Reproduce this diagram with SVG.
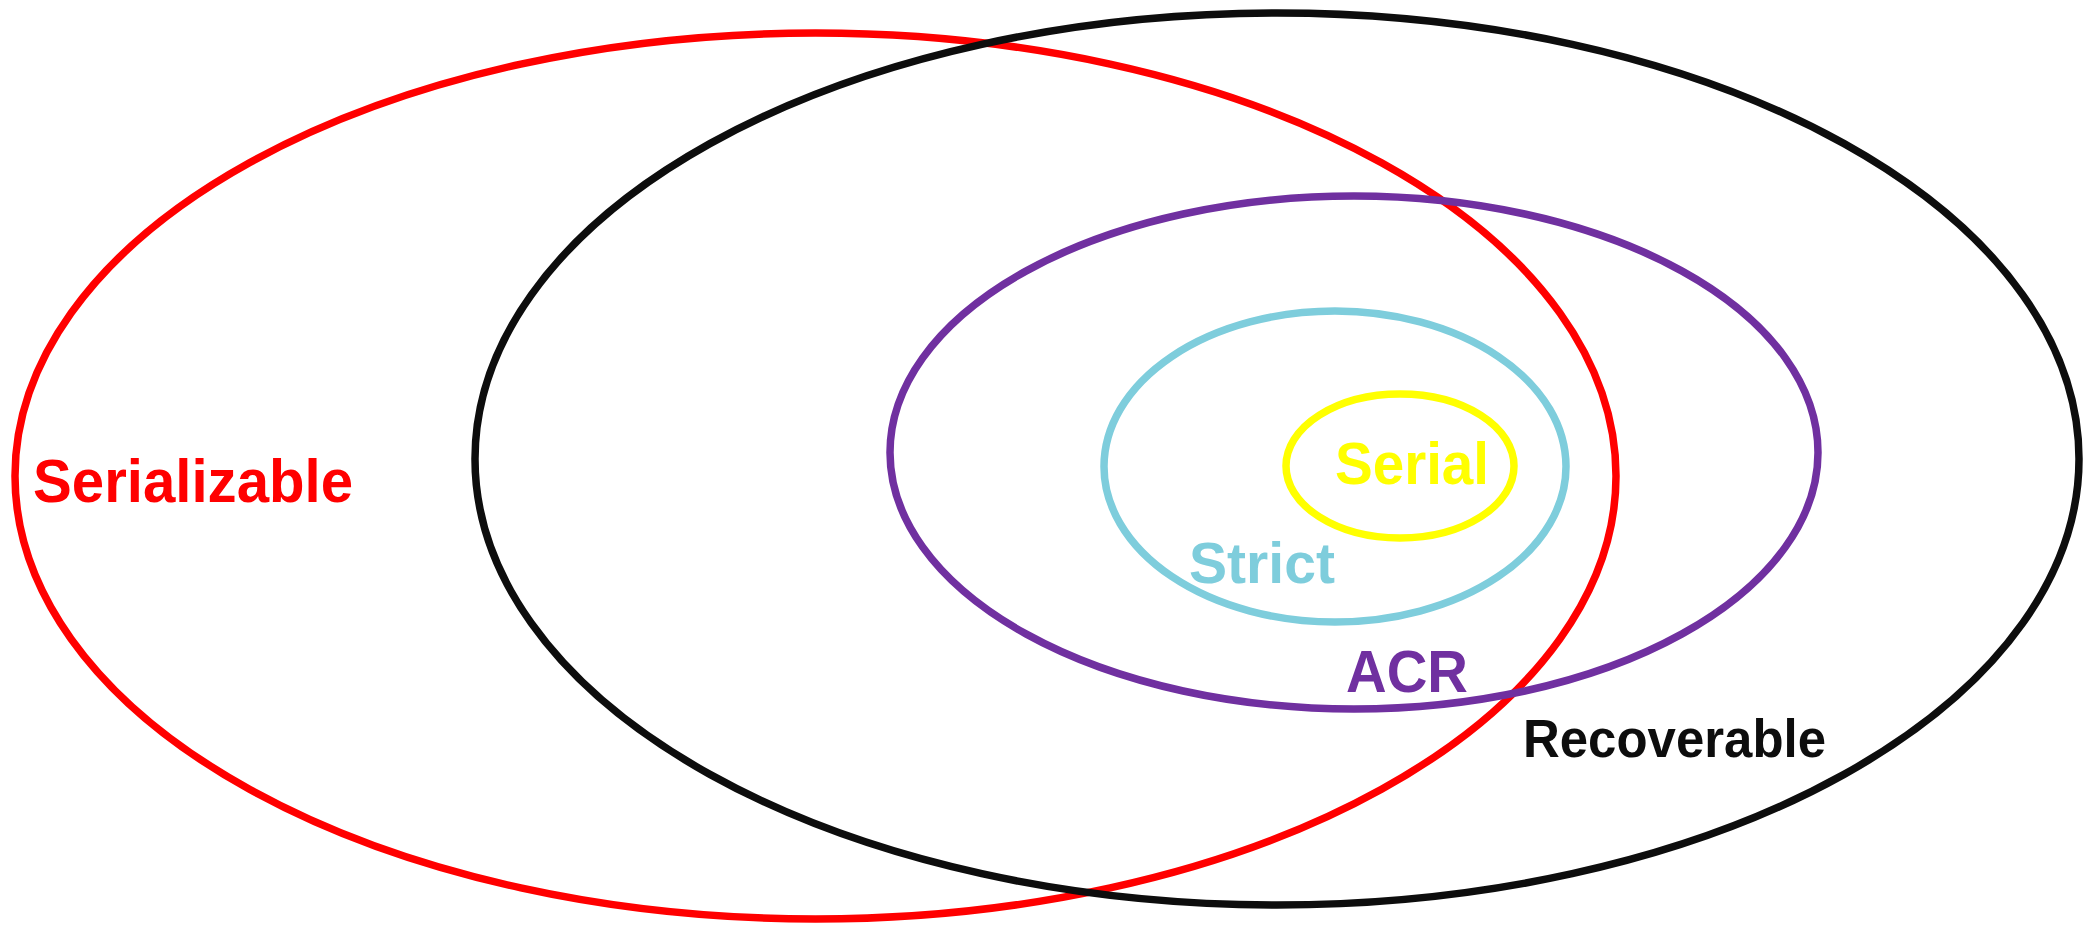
<svg xmlns="http://www.w3.org/2000/svg" width="2096" height="926" viewBox="0 0 2096 926">
  <style>
    .set { fill: none; stroke-width: 7.5; }
    .lbl { font-family: "Liberation Sans", Arial, sans-serif; font-weight: bold; }
  </style>
  <rect x="0" y="0" width="2096" height="926" fill="#ffffff"/>
  <g id="serializable">
    <ellipse class="set" cx="815.5" cy="476" rx="800.5" ry="443" stroke="#FF0000"/>
    <text class="lbl" x="33" y="502" font-size="61" fill="#FF0000" textLength="320" lengthAdjust="spacingAndGlyphs">Serializable</text>
  </g>
  <g id="recoverable">
    <ellipse class="set" cx="1277" cy="459" rx="802" ry="446" stroke="#0D0D0D"/>
    <text class="lbl" x="1523" y="757" font-size="53" fill="#0D0D0D" textLength="303" lengthAdjust="spacingAndGlyphs">Recoverable</text>
  </g>
  <g id="acr">
    <ellipse class="set" cx="1354" cy="452.5" rx="464" ry="256.5" stroke="#7030A0"/>
    <text class="lbl" x="1346" y="692" font-size="59" fill="#7030A0" textLength="122" lengthAdjust="spacingAndGlyphs">ACR</text>
  </g>
  <g id="strict">
    <ellipse class="set" cx="1335" cy="466.5" rx="231" ry="155.5" stroke="#7ECDDC"/>
    <text class="lbl" x="1189" y="583" font-size="58" fill="#7ECDDC" textLength="146" lengthAdjust="spacingAndGlyphs">Strict</text>
  </g>
  <g id="serial">
    <ellipse class="set" cx="1400" cy="466" rx="114" ry="72" stroke="#FFFF00"/>
    <text class="lbl" x="1335" y="484" font-size="60" fill="#FFFF00" textLength="154" lengthAdjust="spacingAndGlyphs">Serial</text>
  </g>
  <g id="connectors"/>
</svg>
